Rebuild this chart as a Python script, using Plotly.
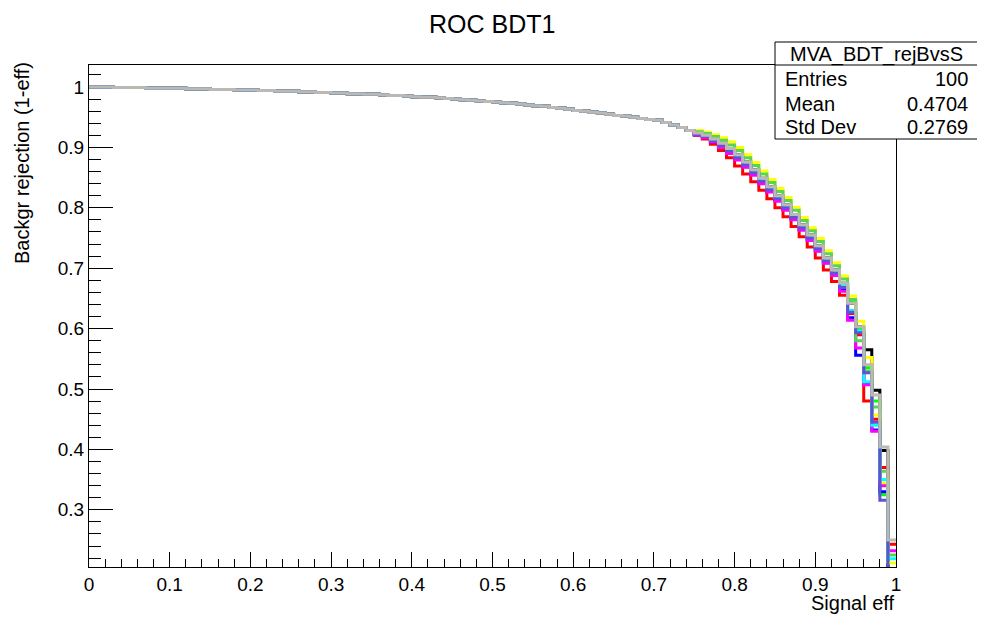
import numpy as np
import plotly.graph_objects as go

# ---- data -------------------------------------------------------------
n_bins = 100
x_min, x_max = 0.0, 1.0

# background rejection in bins 0..74 (all classifiers practically coincide)
rej_common = [
    1.000, 1.000, 1.000, 0.999, 0.999, 0.999, 0.999, 0.998, 0.998, 0.998,
    0.998, 0.998, 0.997, 0.997, 0.997, 0.996, 0.996, 0.996, 0.995, 0.995,
    0.995, 0.994, 0.994, 0.993, 0.993, 0.993, 0.992, 0.992, 0.991, 0.991,
    0.990, 0.990, 0.989, 0.989, 0.988, 0.988, 0.987, 0.986, 0.986, 0.985,
    0.984, 0.983, 0.983, 0.982, 0.981, 0.980, 0.979, 0.978, 0.977, 0.976,
    0.975, 0.974, 0.973, 0.972, 0.970, 0.969, 0.968, 0.966, 0.965, 0.963,
    0.961, 0.960, 0.958, 0.957, 0.955, 0.953, 0.952, 0.950, 0.948, 0.946,
    0.945, 0.941, 0.937, 0.933, 0.928,
]

# bins 75..99 for each curve
tail_black = [0.924, 0.920, 0.914, 0.907, 0.898, 0.888, 0.876, 0.863, 0.849, 0.835, 0.820, 0.805, 0.789,
              0.772, 0.755, 0.737, 0.717, 0.697, 0.675, 0.642, 0.603, 0.565, 0.498, 0.398, 0.190]
tail_red = [0.920, 0.914, 0.905, 0.895, 0.883, 0.869, 0.856, 0.843, 0.829, 0.815, 0.800, 0.785, 0.769,
            0.752, 0.735, 0.717, 0.697, 0.678, 0.655, 0.625, 0.590, 0.480, 0.450, 0.370, 0.243]
tail_green = [0.923, 0.919, 0.913, 0.905, 0.896, 0.886, 0.874, 0.861, 0.847, 0.833, 0.818, 0.803, 0.787,
              0.770, 0.753, 0.735, 0.715, 0.695, 0.673, 0.645, 0.600, 0.535, 0.480, 0.325, 0.190]
tail_blue = [0.921, 0.917, 0.909, 0.901, 0.891, 0.880, 0.868, 0.855, 0.841, 0.827, 0.812, 0.797, 0.781,
             0.764, 0.747, 0.729, 0.709, 0.689, 0.665, 0.618, 0.556, 0.508, 0.432, 0.330, 0.190]
tail_yellow = [0.928, 0.925, 0.921, 0.916, 0.909, 0.900, 0.888, 0.875, 0.861, 0.847, 0.832, 0.817, 0.801,
               0.784, 0.767, 0.749, 0.729, 0.709, 0.687, 0.654, 0.612, 0.552, 0.457, 0.344, 0.212]
tail_magenta = [0.921, 0.916, 0.909, 0.900, 0.890, 0.879, 0.867, 0.854, 0.840, 0.826, 0.811, 0.796, 0.780,
                0.763, 0.746, 0.728, 0.708, 0.688, 0.662, 0.614, 0.568, 0.507, 0.430, 0.340, 0.232]
tail_cyan = [0.923, 0.919, 0.912, 0.905, 0.895, 0.885, 0.873, 0.860, 0.846, 0.832, 0.817, 0.802, 0.786,
             0.769, 0.752, 0.734, 0.714, 0.694, 0.672, 0.630, 0.596, 0.512, 0.440, 0.350, 0.219]
tail_midgreen = [0.926, 0.923, 0.918, 0.912, 0.904, 0.895, 0.883, 0.870, 0.856, 0.842, 0.827, 0.812, 0.796,
                 0.779, 0.762, 0.744, 0.724, 0.704, 0.682, 0.648, 0.580, 0.530, 0.470, 0.364, 0.225]
tail_slateblue = [0.922, 0.918, 0.911, 0.903, 0.894, 0.883, 0.871, 0.858, 0.844, 0.830, 0.815, 0.800, 0.784,
                  0.767, 0.750, 0.732, 0.712, 0.692, 0.668, 0.627, 0.593, 0.527, 0.445, 0.316, 0.180]
tail_grey = [0.924, 0.920, 0.914, 0.907, 0.898, 0.888, 0.876, 0.863, 0.849, 0.835, 0.820, 0.805, 0.789,
             0.772, 0.755, 0.737, 0.717, 0.697, 0.675, 0.642, 0.603, 0.540, 0.490, 0.404, 0.250]

tails = [tail_black, tail_red, tail_green, tail_blue, tail_yellow, tail_magenta,
         tail_cyan, tail_midgreen, tail_slateblue, tail_grey]
colors = ["#000000", "#ff0000", "#00ff00", "#0000ff", "#ffff00", "#ff00ff",
          "#00ffff", "#59d354", "#5954d8", "#bcb8b4"]

stats_name = "MVA_BDT_rejBvsS"
stats_rows = [("Entries", "100"), ("Mean", "0.4704"), ("Std Dev", "0.2769")]

# ---- figure -----------------------------------------------------------
edges = np.linspace(x_min, x_max, n_bins + 1)
FONT = "Liberation Sans, Arial, Helvetica, sans-serif"

fig = go.Figure()
for tail, col in zip(tails, colors):
    vals = list(rej_common) + list(tail)
    fig.add_trace(go.Scatter(
        x=edges, y=vals + [vals[-1]],
        mode="lines", line=dict(color=col, width=3, shape="hv"),
        showlegend=False, hoverinfo="skip",
    ))

axis_common = dict(
    showline=True, linecolor="black", linewidth=1, mirror=True,
    ticks="inside", tickcolor="black", tickwidth=1,
    showgrid=False, zeroline=False, layer="below traces",
    tickfont=dict(family=FONT, size=19, color="black"),
)
fig.update_xaxes(range=[0, 1], dtick=0.1, tick0=0, ticklen=15,
                 minor=dict(ticks="inside", dtick=0.02, ticklen=8, tickcolor="black"),
                 **axis_common)
fig.update_yaxes(range=[0.2053, 1.0364], dtick=0.1, tick0=0, ticklen=24,
                 minor=dict(ticks="inside", dtick=0.02, ticklen=12, tickcolor="black"),
                 **axis_common)

# page body has an 8px margin: work in screen pixels and shift by it
OFF = 8
SW, SH = 985, 619
W, H = SW - OFF, SH - OFF
PL, PR, PT, PB = 89, 896, 65, 567          # plot frame in screen pixels
L, T = PL - OFF, PT - OFF
R, B = SW - PR, SH - PB
pw, ph = PR - PL, PB - PT


def px(xs):
    return (xs - PL) / pw


def py(ys):
    return (PB - ys) / ph


annotations = [
    dict(text="ROC BDT1", xref="paper", yref="paper", x=px(492), y=py(24),
         xanchor="center", yanchor="middle", showarrow=False,
         font=dict(family=FONT, size=25, color="black")),
    dict(text="Signal eff", xref="paper", yref="paper", x=1.0, y=py(603),
         xanchor="right", yanchor="middle", showarrow=False,
         font=dict(family=FONT, size=20, color="black")),
    dict(text="Backgr rejection (1-eff)", xref="paper", yref="paper", x=px(22), y=py(60),
         xanchor="center", yanchor="top", textangle=-90, showarrow=False,
         font=dict(family=FONT, size=20, color="black")),
    dict(text=stats_name, xref="paper", yref="paper", x=px(876), y=py(54),
         xanchor="center", yanchor="middle", showarrow=False,
         font=dict(family=FONT, size=20, color="black")),
]
row_y = [79, 104, 127]
for (lab, val), yy in zip(stats_rows, row_y):
    annotations.append(dict(text=lab, xref="paper", yref="paper", x=px(783), y=py(yy),
                            xanchor="left", yanchor="middle", showarrow=False,
                            font=dict(family=FONT, size=20, color="black")))
    annotations.append(dict(text=val, xref="paper", yref="paper", x=px(970), y=py(yy),
                            xanchor="right", yanchor="middle", showarrow=False,
                            font=dict(family=FONT, size=20, color="black")))

shapes = [
    dict(type="rect", xref="paper", yref="paper", x0=px(775), x1=px(978), y0=py(139), y1=py(42),
         line=dict(color="black", width=1), fillcolor="white", layer="above"),
    dict(type="line", xref="paper", yref="paper", x0=px(775), x1=px(978), y0=py(65), y1=py(65),
         line=dict(color="black", width=1), layer="above"),
]

fig.update_layout(
    width=W, height=H,
    margin=dict(l=L, r=R, t=T, b=B),
    paper_bgcolor="white", plot_bgcolor="white",
    font=dict(family=FONT, color="black"),
    annotations=annotations, shapes=shapes,
    showlegend=False,
)

fig.write_html("out.html")
